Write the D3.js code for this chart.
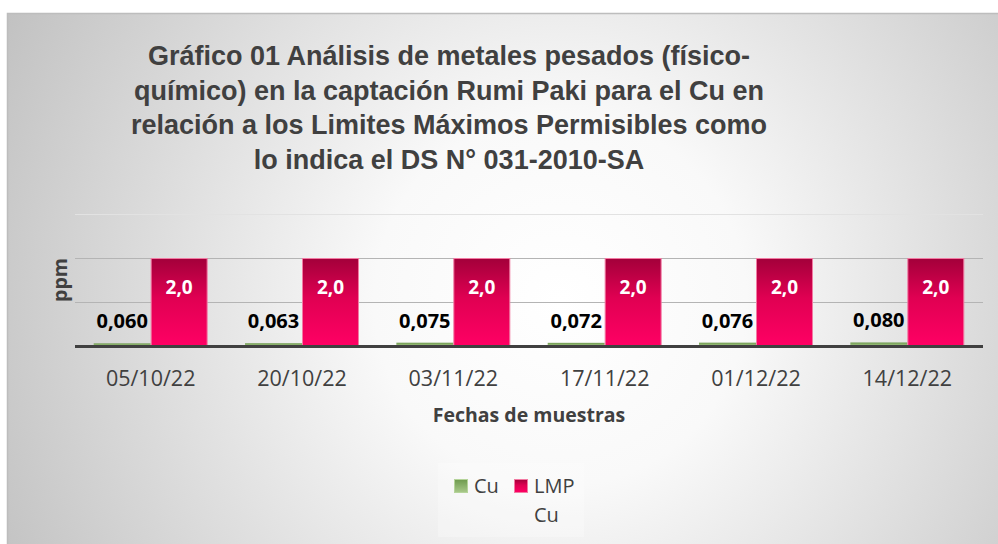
<!DOCTYPE html>
<html><head><meta charset="utf-8">
<script src="https://cdn.jsdelivr.net/npm/d3@7"></script>
<style>html,body{margin:0;padding:0;background:#fff;}svg{display:block;}</style>
</head><body>
<script>
const dates = ["05/10/22","20/10/22","03/11/22","17/11/22","01/12/22","14/12/22"];
const cuValues = [0.060,0.063,0.075,0.072,0.076,0.080];
const lmpValues = [2.0,2.0,2.0,2.0,2.0,2.0];
const cuLabels = ["0,060","0,063","0,075","0,072","0,076","0,080"];
const lmpLabels = ["2,0","2,0","2,0","2,0","2,0","2,0"];
const yTicks = [0,1,2,3];
const seriesNames = ["Cu","LMP"];
const titleLines = ["Gráfico 01 Análisis de metales pesados (físico-","químico) en la captación Rumi Paki para el Cu en","relación a los Limites Máximos Permisibles como","lo indica el DS N° 031-2010-SA"];

const W=998,H=544;
const svg=d3.select("body").append("svg").attr("width",W).attr("height",H);
const defs=svg.append("defs");
const bg=defs.append("radialGradient").attr("id","bg").attr("gradientUnits","userSpaceOnUse")
  .attr("cx",560).attr("cy",300).attr("r",620);
bg.append("stop").attr("offset","0").attr("stop-color","#ffffff");
bg.append("stop").attr("offset","0.3").attr("stop-color","#f9f9f9");
bg.append("stop").attr("offset","1").attr("stop-color","#c2c2c2");
const gL=defs.append("linearGradient").attr("id","lmp").attr("x1",0).attr("y1",0).attr("x2",0).attr("y2",1);
gL.append("stop").attr("offset","0").attr("stop-color","#a3003a");
gL.append("stop").attr("offset","0.45").attr("stop-color","#e00052");
gL.append("stop").attr("offset","1").attr("stop-color","#ff0064");
const gC=defs.append("linearGradient").attr("id","cu").attr("x1",0).attr("y1",0).attr("x2",0).attr("y2",1);
gC.append("stop").attr("offset","0").attr("stop-color","#6e9a4e");
gC.append("stop").attr("offset","1").attr("stop-color","#a9c98a");

svg.append("rect").attr("x",7).attr("y",13).attr("width",W-7).attr("height",H-13).attr("fill","url(#bg)");
svg.append("path").attr("d",`M7.5,${H} V13.5 H${W}`).attr("fill","none").attr("stroke","#bdbdbd").attr("stroke-width",1.5);

// title
svg.append("g").selectAll("text").data(titleLines).join("text")
  .attr("x",449).attr("y",(d,i)=>65+i*34.5).attr("text-anchor","middle")
  .attr("font-family","'Liberation Sans',Arial,sans-serif").attr("font-weight","bold")
  .attr("font-size",27).attr("fill","#404040").text(d=>d);

const left=75,right=983,base=346;
const y=d3.scaleLinear().domain([0,3]).range([base,214]);
const x0=d3.scaleBand().domain(dates).range([left,right]).paddingInner(0.247).paddingOuter(0.1235);
const x1=d3.scaleBand().domain(seriesNames).range([0,x0.bandwidth()]).padding(0);

// gridlines
svg.append("g").selectAll("line").data(yTicks.filter(t=>t>0)).join("line")
  .attr("x1",left).attr("x2",right).attr("y1",d=>Math.round(y(d))+0.5).attr("y2",d=>Math.round(y(d))+0.5)
  .attr("stroke",d=>d===3?"#e2e2e2":"#b4b4b4").attr("stroke-width",1);

const groups=svg.append("g").selectAll("g").data(dates).join("g")
  .attr("transform",d=>`translate(${x0(d)},0)`);
// Cu bars
groups.append("rect").attr("x",x1("Cu")).attr("width",x1.bandwidth())
  .attr("y",(d,i)=>y(cuValues[i])).attr("height",(d,i)=>base-y(cuValues[i])).attr("fill","url(#cu)");
// LMP bars
groups.append("rect").attr("x",x1("LMP")+0.5).attr("width",x1.bandwidth()-1)
  .attr("y",(d,i)=>y(lmpValues[i])+0.5).attr("height",(d,i)=>base-y(lmpValues[i])-0.5)
  .attr("fill","url(#lmp)").attr("stroke","#f27aa3").attr("stroke-width",1);
// labels
groups.append("text").attr("x",x1("Cu")+x1.bandwidth()/2).attr("y",(d,i)=>y(cuValues[i])-15)
  .attr("text-anchor","middle").attr("font-family","'Open Sans',sans-serif").attr("font-weight","bold")
  .attr("font-size",20).attr("fill","#000").text((d,i)=>cuLabels[i]);
groups.append("text").attr("x",x1("LMP")+x1.bandwidth()/2).attr("y",(d,i)=>y(lmpValues[i])+36)
  .attr("text-anchor","middle").attr("font-family","'Open Sans',sans-serif").attr("font-weight","bold")
  .attr("font-size",19).attr("fill","#fff").text((d,i)=>lmpLabels[i]);

// x axis
const xAxis=svg.append("g").attr("transform",`translate(0,${base})`).call(d3.axisBottom(x0).tickSize(0).tickPadding(0));
xAxis.select(".domain").remove();
xAxis.selectAll("text").attr("dy",null).attr("y",40).attr("font-family","'Open Sans',sans-serif")
  .attr("font-size",21.5).attr("fill","#404040");
svg.append("line").attr("x1",left).attr("x2",right).attr("y1",base+0.5).attr("y2",base+0.5)
  .attr("stroke","#404040").attr("stroke-width",3);

svg.append("text").attr("x",(left+right)/2).attr("y",422).attr("text-anchor","middle")
  .attr("font-family","'Open Sans',sans-serif").attr("font-weight","bold").attr("font-size",19.5)
  .attr("fill","#404040").text("Fechas de muestras");
svg.append("text").attr("transform","translate(67,280) rotate(-90)").attr("text-anchor","middle")
  .attr("font-family","'Open Sans',sans-serif").attr("font-weight","bold").attr("font-size",19.5)
  .attr("fill","#404040").text("ppm");

// legend
const lg=svg.append("g");
lg.append("rect").attr("x",438).attr("y",463).attr("width",146).attr("height",74).attr("fill","#ffffff").attr("opacity",0.25);
const legendItems=[{name:seriesNames[0],fill:"url(#cu)",stroke:"#b5d49a",x:454,lines:["Cu"]},
  {name:seriesNames[1],fill:"url(#lmp)",stroke:"#f27aa3",x:514,lines:["LMP","Cu"]}];
legendItems.forEach(it=>{
  lg.append("rect").attr("x",it.x+0.5).attr("y",479.5).attr("width",13).attr("height",13)
    .attr("fill",it.fill).attr("stroke",it.stroke).attr("stroke-width",1);
  it.lines.forEach((t,j)=>lg.append("text").attr("x",it.x+20).attr("y",493+j*29)
    .attr("font-family","'Open Sans',sans-serif").attr("font-size",20).attr("fill","#404040").text(t));
});
</script>
</body></html>
